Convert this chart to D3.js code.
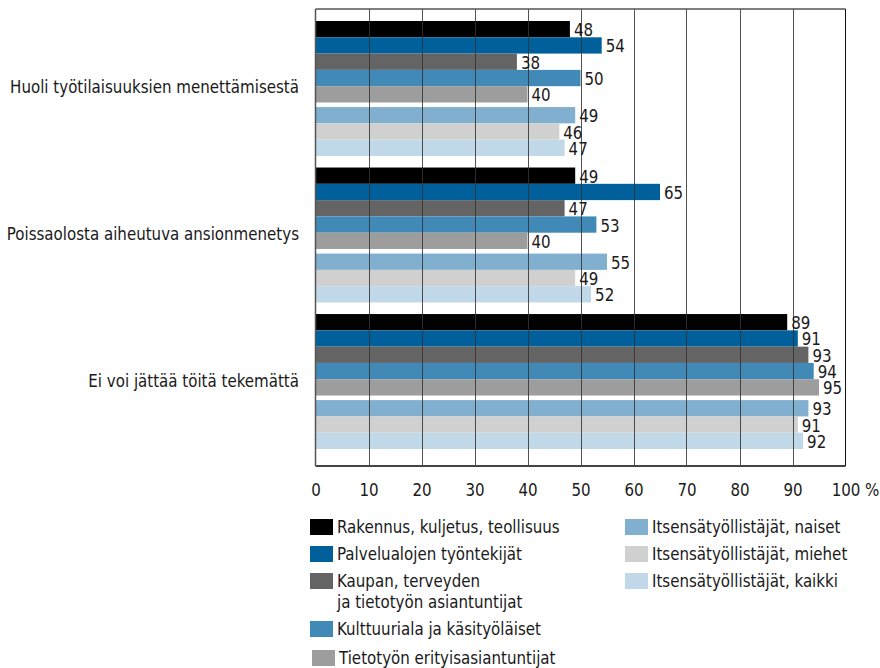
<!DOCTYPE html>
<html><head><meta charset="utf-8">
<script src="https://cdn.jsdelivr.net/npm/d3@7"></script>
<style>
html,body{margin:0;padding:0;background:#fff;}
text{font-family:"Liberation Sans Narrow","DejaVu Sans Condensed","Liberation Sans",sans-serif;fill:#1a1a1a;}
</style></head>
<body>
<svg id="chart" width="880" height="668"></svg>
<script>
const categories = ["Huoli työtilaisuuksien menettämisestä", "Poissaolosta aiheutuva ansionmenetys", "Ei voi jättää töitä tekemättä"];
const seriesNames = ["Rakennus, kuljetus, teollisuus", "Palvelualojen  työntekijät", "Kaupan, terveyden\nja tietotyön asiantuntijat", "Kulttuuriala  ja käsityöläiset", "Tietotyön  erityisasiantuntijat", "Itsensätyöllistäjät, naiset", "Itsensätyöllistäjät, miehet", "Itsensätyöllistäjät, kaikki"];
const rakennus = [48, 49, 89];
const palvelu = [54, 65, 91];
const kaupan = [38, 47, 93];
const kulttuuri = [50, 53, 94];
const tietotyo = [40, 40, 95];
const naiset = [49, 55, 93];
const miehet = [46, 49, 91];
const kaikki = [47, 52, 92];
const seriesValues = [rakennus, palvelu, kaupan, kulttuuri, tietotyo, naiset, miehet, kaikki];
const colors = ["#000000", "#00609c", "#646464", "#418ab8", "#9d9d9d", "#80afcf", "#d0d0d0", "#c0d8e8"];
const tickValues = [0, 10, 20, 30, 40, 50, 60, 70, 80, 90, 100];

const svg = d3.select("#chart");
const pLeft = 315.5, pRight = 845.5, pTop = 9, pBottom = 466;

// font sizing: fit the first category label to its width in the reference
const probe = svg.append("text").attr("font-size", 18).text(categories[0]);
const pw = probe.node().getComputedTextLength();
probe.remove();
const fs = Math.min(19, Math.max(14, 18 * 289 / pw));

const x = d3.scaleLinear().domain([0, 100]).range([pLeft, pRight]);
const y = d3.scaleBand().domain(categories).range([21, 449]).paddingInner(0.079).paddingOuter(0);
const bw = y.bandwidth();
const gap = bw * 0.034;
const bh = (bw - gap) / 8;
const barY = (i) => i * bh + (i >= 5 ? gap : 0);

const data = [];
categories.forEach((c, ci) => {
  seriesValues.forEach((vals, si) => data.push({c, si, v: vals[ci]}));
});

// bars
svg.append("g").selectAll("rect").data(data).join("rect")
  .attr("x", x(0))
  .attr("y", d => y(d.c) + barY(d.si))
  .attr("width", d => x(d.v) - x(0))
  .attr("height", bh)
  .attr("fill", d => colors[d.si]);

// gridlines
svg.append("g").selectAll("line").data(tickValues.slice(1, -1)).join("line")
  .attr("x1", d => Math.round(x(d)) + 0.5).attr("x2", d => Math.round(x(d)) + 0.5)
  .attr("y1", pTop).attr("y2", pBottom)
  .attr("stroke", "#333").attr("stroke-width", 1).attr("stroke-opacity", 0.85);

// frame
svg.append("line").attr("x1", pLeft).attr("x2", pRight).attr("y1", pTop).attr("y2", pTop).attr("stroke", "#555").attr("stroke-width", 1.5);
svg.append("line").attr("x1", pLeft).attr("x2", pRight).attr("y1", pBottom).attr("y2", pBottom).attr("stroke", "#444").attr("stroke-width", 2);
svg.append("line").attr("x1", pLeft).attr("x2", pLeft).attr("y1", pTop).attr("y2", pBottom).attr("stroke", "#555").attr("stroke-width", 1.5);
svg.append("line").attr("x1", pRight).attr("x2", pRight).attr("y1", pTop).attr("y2", pBottom).attr("stroke", "#111").attr("stroke-width", 1);

// value labels
svg.append("g").selectAll("text").data(data).join("text")
  .attr("x", d => x(d.v) + 4)
  .attr("y", d => y(d.c) + barY(d.si) + bh / 2 + 1)
  .attr("dominant-baseline", "central")
  .attr("font-size", fs)
  .text(d => d.v);

// category labels
svg.append("g").selectAll("text").data(categories).join("text")
  .attr("x", 299)
  .attr("y", d => y(d) + bw / 2 - 1)
  .attr("text-anchor", "end")
  .attr("dominant-baseline", "central")
  .attr("font-size", fs)
  .text(d => d);

// x axis
const xAxis = d3.axisBottom(x).tickValues(tickValues).tickSize(0).tickPadding(0).tickFormat(d3.format("d"));
const ax = svg.append("g").attr("transform", `translate(0,${pBottom})`).call(xAxis);
ax.select(".domain").remove();
ax.attr("font-family", null).attr("font-size", null);
ax.selectAll("text").attr("font-size", fs).attr("dy", null).attr("y", 24).attr("dominant-baseline", "central").attr("fill", "#1a1a1a");
const lastTick = ax.selectAll("text").filter(d => d === 100).node();
const lw = lastTick.getComputedTextLength();
svg.append("text").attr("x", x(100) + lw / 2 + fs * 0.3).attr("y", pBottom + 24)
  .attr("dominant-baseline", "central").attr("font-size", fs).text("%");

// legend
const legend = svg.append("g");
const rowStep = 27, lineStep = 21;
const cols = [{x: 310, idx: [0, 1, 2, 3, 4]}, {x: 625, idx: [5, 6, 7]}];
cols.forEach(col => {
  let yy = 527;
  col.idx.forEach(si => {
    const lines = seriesNames[si].split("\n");
    const off = si === 4 ? 2 : 0;
    legend.append("rect").attr("x", col.x + off).attr("y", yy + off - 8).attr("width", 23).attr("height", 16).attr("fill", colors[si]);
    const t = legend.append("text").attr("x", col.x + 27 + off).attr("y", yy + off).attr("dominant-baseline", "central").attr("font-size", fs);
    lines.forEach((l, li) => t.append("tspan").attr("x", col.x + 27 + off).attr("dy", li === 0 ? 0 : lineStep).text(l));
    yy += rowStep + (lines.length - 1) * lineStep;
  });
});
</script>
</body></html>
